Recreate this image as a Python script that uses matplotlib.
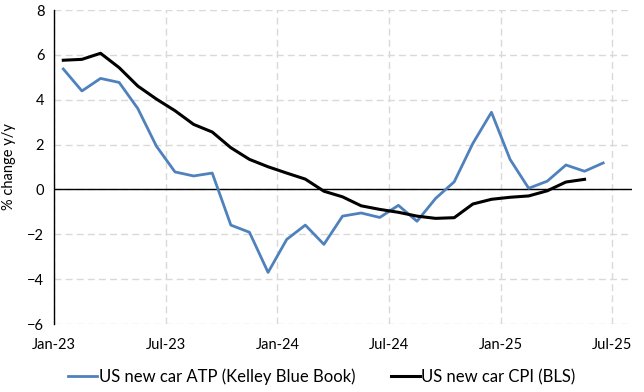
import matplotlib
matplotlib.use('Agg')
import matplotlib.pyplot as plt
import numpy as np

plt.rcParams['font.family'] = ['Lato', 'DejaVu Sans']

# monthly data, Jan-23 onwards
atp = [5.37, 4.39, 4.95, 4.77, 3.61, 1.93, 0.78, 0.60, 0.73, -1.59, -1.91, -3.70,
       -2.23, -1.59, -2.45, -1.19, -1.05, -1.25, -0.71, -1.42, -0.40, 0.34, 2.05, 3.44,
       1.34, 0.05, 0.37, 1.09, 0.81, 1.18]
cpi = [5.76, 5.80, 6.07, 5.43, 4.61, 4.03, 3.51, 2.90, 2.56, 1.86, 1.34, 1.01,
       0.73, 0.46, -0.08, -0.33, -0.73, -0.89, -1.02, -1.19, -1.29, -1.26, -0.65, -0.44,
       -0.35, -0.29, -0.06, 0.33, 0.45]
tick_labels = ['Jan-23', 'Jul-23', 'Jan-24', 'Jul-24', 'Jan-25', 'Jul-25']

fig = plt.figure(figsize=(6.44, 3.92), dpi=100)
ax = fig.add_axes([54/644, 1 - 324/392, (632-54)/644, (324-10)/392])

# points sit mid-month
x_atp = np.arange(len(atp)) + 0.5
x_cpi = np.arange(len(cpi)) + 0.5

ax.plot(x_atp, atp, color='#4F81BD', lw=2.0, label='US new car ATP (Kelley Blue Book)', zorder=3)
ax.plot(x_cpi, cpi, color='black', lw=2.2, label='US new car CPI (BLS)', zorder=3)

ax.set_xlim(0, 31.05)
ax.set_ylim(-6, 8)
ax.set_xticks(np.arange(0, 31, 6))
ax.set_xticklabels(tick_labels)
ax.set_yticks(np.arange(-6, 9, 2))
ax.tick_params(length=0, labelsize=10.5, pad=10)
ax.tick_params(axis='y', pad=7)

ax.grid(True, linestyle=(0, (5, 3)), color='#D9D9D9', lw=1.0)
ax.axhline(0, color='black', lw=1.0, zorder=2)
for s in ['top', 'right', 'bottom']:
    ax.spines[s].set_visible(False)
ax.spines['left'].set_color('black')
ax.spines['left'].set_linewidth(1.0)

ax.set_ylabel('% change y/y', fontsize=10.5, labelpad=8)

fig.legend(loc='center', bbox_to_anchor=(0.5, 1 - 377/392), ncol=2, frameon=False,
           fontsize=12, handlelength=1.75, columnspacing=2.1, handletextpad=0.1)

fig.savefig('out.png', dpi=100)
